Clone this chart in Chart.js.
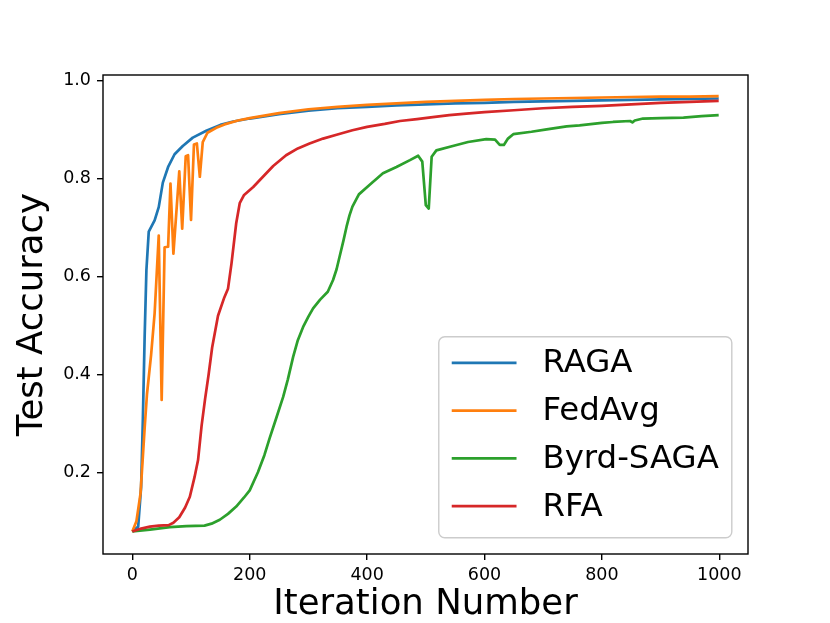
<!DOCTYPE html>
<html>
<head>
<meta charset="utf-8">
<title>Test Accuracy vs Iteration</title>
<script src="https://cdn.jsdelivr.net/npm/chart.js@4.4.1/dist/chart.umd.min.js"></script>
<style>
  html, body { margin: 0; padding: 0; background: #fff; }
</style>
</head>
<body>
<canvas id="accChart" width="830" height="623"></canvas>
<script>
// --- Data ---

const seriesNames = ["RAGA", "FedAvg", "Byrd-SAGA", "RFA"];
const seriesColors = ["#1f77b4", "#ff7f0e", "#2ca02c", "#d62728"];

const ragaIters = [0, 10, 15, 18, 21, 24, 28, 38, 45, 52, 61, 72, 86, 103, 126, 150, 172, 200,
  250, 300, 350, 400, 450, 500, 550, 600, 650, 700, 750, 800, 850, 900, 950, 999];
const ragaAcc = [0.079, 0.089, 0.170, 0.310, 0.477, 0.613, 0.692, 0.715, 0.742, 0.792, 0.824, 0.850, 0.867, 0.884, 0.898, 0.910, 0.917, 0.923,
  0.932, 0.939, 0.944, 0.947, 0.950, 0.952, 0.954, 0.955, 0.957, 0.958, 0.959, 0.960, 0.961, 0.962, 0.963, 0.964];

const fedavgIters = [0, 7, 14, 21, 25, 32, 38, 45, 50, 55, 61, 65, 70, 80, 85, 91, 95, 100, 105, 110, 115, 120, 128, 143, 157, 180, 200,
  250, 300, 350, 400, 450, 500, 550, 600, 650, 700, 750, 800, 850, 900, 950, 999];
const fedavgAcc = [0.079, 0.100, 0.157, 0.290, 0.360, 0.440, 0.525, 0.684, 0.348, 0.660, 0.661, 0.790, 0.647, 0.815, 0.698, 0.846, 0.848, 0.716, 0.870, 0.872, 0.804, 0.875, 0.894, 0.904, 0.911, 0.919, 0.924,
  0.934, 0.942, 0.947, 0.951, 0.954, 0.957, 0.959, 0.961, 0.963, 0.964, 0.965, 0.966, 0.967, 0.968, 0.968, 0.969];

const byrdIters = [0, 30, 64, 92, 123, 135, 149, 163, 177, 190, 200, 214, 225, 234, 245, 257, 265, 274, 282, 291, 300, 308, 320, 333,
  342, 348, 353, 360, 365, 370, 375, 386, 404, 427, 450, 473, 487, 494, 500, 505, 510, 518, 546, 572, 603, 618, 626, 633, 640, 649,
  680, 706, 740, 762, 800, 819, 848, 852, 856, 870, 900, 939, 970, 999];
const byrdAcc = [0.079, 0.083, 0.088, 0.090, 0.091, 0.095, 0.103, 0.115, 0.130, 0.148, 0.163, 0.200, 0.235, 0.270, 0.310, 0.354, 0.390, 0.436, 0.470, 0.497, 0.518, 0.535, 0.553, 0.569,
  0.593, 0.615, 0.640, 0.675, 0.702, 0.725, 0.743, 0.768, 0.787, 0.811, 0.824, 0.838, 0.847, 0.835, 0.746, 0.739, 0.845, 0.858, 0.867, 0.875, 0.881, 0.880, 0.869, 0.869, 0.882, 0.891,
  0.896, 0.901, 0.907, 0.909, 0.914, 0.916, 0.918, 0.915, 0.919, 0.923, 0.924, 0.925, 0.928, 0.930];

const rfaIters = [0, 15, 30, 45, 62, 70, 80, 90, 98, 106, 112, 118, 124, 130, 136, 146, 156, 163, 169, 177, 183, 190, 206, 225, 240,
  262, 282, 302, 325, 348, 375, 400, 430, 456, 485, 512, 540, 569, 600, 650, 700, 750, 800, 850, 900, 950, 999];
const rfaAcc = [0.079, 0.085, 0.089, 0.091, 0.092, 0.097, 0.108, 0.128, 0.150, 0.190, 0.225, 0.295, 0.350, 0.400, 0.455, 0.520, 0.555, 0.575, 0.627, 0.709, 0.750, 0.766, 0.783, 0.807, 0.826,
  0.848, 0.862, 0.872, 0.882, 0.890, 0.899, 0.906, 0.912, 0.918, 0.922, 0.926, 0.930, 0.933, 0.936, 0.940, 0.944, 0.947, 0.949, 0.952, 0.955, 0.957, 0.959];

const xTicks = [0, 200, 400, 600, 800, 1000];
const yTicks = [0.2, 0.4, 0.6, 0.8, 1.0];

const FONT = '"DejaVu Sans", "Liberation Sans", sans-serif';

const toPoints = (iters, acc) => iters.map((x, i) => ({ x: x, y: acc[i] }));

const allSeries = [
  toPoints(ragaIters, ragaAcc),
  toPoints(fedavgIters, fedavgAcc),
  toPoints(byrdIters, byrdAcc),
  toPoints(rfaIters, rfaAcc)
];

// matplotlib draws later series on top; in Chart.js lower order = drawn last
const datasets = allSeries.map((pts, i) => ({
  label: seriesNames[i],
  data: pts,
  borderColor: seriesColors[i],
  backgroundColor: seriesColors[i],
  borderWidth: 2.7,
  pointRadius: 0,
  tension: 0,
  fill: false,
  borderJoinStyle: "round",
  order: seriesNames.length - i
}));

// --- Plugin: axes frame + legend box in lower right ---

const frameAndLegend = {
  id: "frameAndLegend",
  afterDatasetsDraw(chart) {
    const { ctx, chartArea: ca } = chart;
    ctx.save();

    // full box around the plot
    ctx.strokeStyle = "#000";
    ctx.lineWidth = 1.4;
    ctx.strokeRect(ca.left, ca.top, ca.right - ca.left, ca.bottom - ca.top);

    // legend
    const fs = 32.4;
    ctx.font = `${fs}px ${FONT}`;
    const labels = chart.data.datasets.map(d => d.label);
    const textW = Math.max(...labels.map(t => ctx.measureText(t).width));
    const pad = 0.4 * fs, handleLen = 2 * fs, handlePad = 0.8 * fs;
    const rowGap = 47.8;
    const w = pad + handleLen + handlePad + textW + pad;
    const h = 201;
    const right = ca.right - 0.5 * fs;
    const bottom = ca.bottom - 0.5 * fs;
    const left = right - w;
    const top = bottom - h;

    ctx.beginPath();
    ctx.roundRect(left, top, w, h, 6);
    ctx.fillStyle = "rgba(255,255,255,0.8)";
    ctx.fill();
    ctx.strokeStyle = "#cccccc";
    ctx.lineWidth = 1.4;
    ctx.stroke();

    ctx.textAlign = "left";
    ctx.textBaseline = "middle";
    chart.data.datasets.forEach((d, i) => {
      const y = top + 26 + i * rowGap;
      ctx.beginPath();
      ctx.moveTo(left + pad, y);
      ctx.lineTo(left + pad + handleLen, y);
      ctx.strokeStyle = d.borderColor;
      ctx.lineWidth = 2.7;
      ctx.stroke();
      ctx.fillStyle = "#000";
      ctx.fillText(d.label, left + pad + handleLen + handlePad, y + 1);
    });

    ctx.restore();
  }
};

// --- Chart ---

const ctx = document.getElementById("accChart").getContext("2d");
new Chart(ctx, {
  type: "line",
  data: { datasets },
  options: {
    responsive: false,
    animation: false,
    devicePixelRatio: 1,
    layout: { padding: { top: 75, right: 82, left: 0, bottom: 0 } },
    plugins: {
      legend: { display: false },
      tooltip: { enabled: false }
    },
    scales: {
      x: {
        type: "linear",
        min: -49.95,
        max: 1048.95,
        afterBuildTicks: (scale) => { scale.ticks = xTicks.map(v => ({ value: v })); },
        afterFit: (scale) => { scale.height = 69; },
        ticks: {
          autoSkip: false,
          maxRotation: 0,
          padding: 5,
          color: "#000",
          font: { family: FONT, size: 17.5 },
          callback: (v) => String(v)
        },
        grid: { drawOnChartArea: false, drawTicks: true, tickLength: 6, color: "#000", lineWidth: 1.4 },
        border: { display: false },
        title: {
          display: true,
          text: "Iteration Number",
          color: "#000",
          font: { family: FONT, size: 35.5, lineHeight: 1 },
          padding: { top: 0, bottom: 0 }
        }
      },
      y: {
        type: "linear",
        min: 0.033,
        max: 1.012,
        afterBuildTicks: (scale) => { scale.ticks = yTicks.map(v => ({ value: v })); },
        afterFit: (scale) => { scale.width = 103; },
        ticks: {
          autoSkip: false,
          padding: 6,
          color: "#000",
          font: { family: FONT, size: 17.5 },
          callback: (v) => Number(v).toFixed(1)
        },
        grid: { drawOnChartArea: false, drawTicks: true, tickLength: 6, color: "#000", lineWidth: 1.4 },
        border: { display: false },
        title: {
          display: true,
          text: "Test Accuracy",
          color: "#000",
          font: { family: FONT, size: 35.5, lineHeight: 1 },
          padding: { top: 15, bottom: 0 }
        }
      }
    }
  },
  plugins: [frameAndLegend]
});
</script>
</body>
</html>
